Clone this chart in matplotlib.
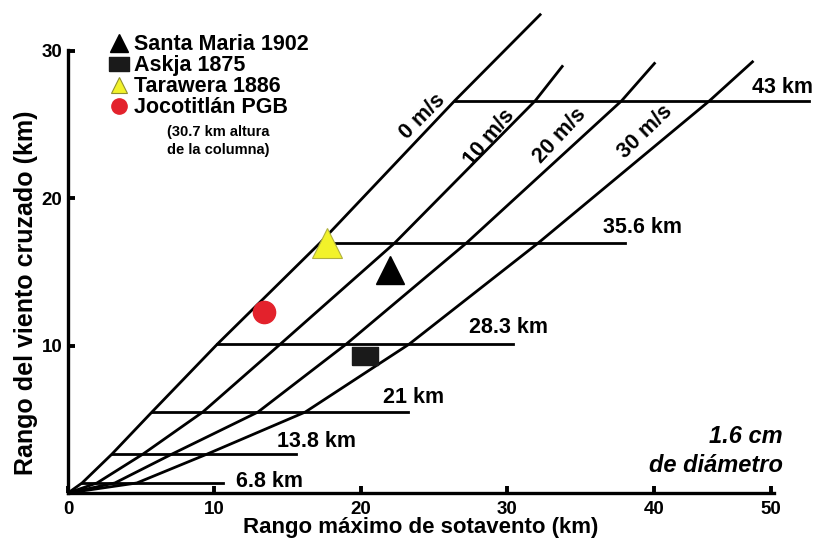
import matplotlib
matplotlib.use("Agg")
import matplotlib.pyplot as plt
from matplotlib.lines import Line2D

plt.rcParams['font.family'] = ['Liberation Sans', 'DejaVu Sans']
plt.rcParams['font.weight'] = 'bold'

# alturas de columna (km) y posicion de cada linea horizontal
alturas = ['6.8 km', '13.8 km', '21 km', '28.3 km', '35.6 km', '43 km']
alt_y = [0.68, 2.64, 5.49, 10.1, 16.95, 26.6]
alt_x0 = [0.96, 3.0, 5.73, 10.2, 17.2, 26.4]
alt_x1 = [10.6, 15.6, 23.2, 30.4, 38.0, 50.6]

# curvas de velocidad del viento: cruces con cada altura + extremo superior
viento = ['0 m/s', '10 m/s', '20 m/s', '30 m/s']
v0_x = [0, 0.96, 3.0, 5.73, 10.2, 17.2, 26.4, 32.3]
v0_y = [0, 0.68, 2.64, 5.49, 10.1, 16.95, 26.6, 32.5]
v10_x = [0, 1.98, 5.12, 9.2, 14.5, 22.3, 31.9, 33.8]
v10_y = [0, 0.68, 2.64, 5.49, 10.1, 16.95, 26.6, 29.0]
v20_x = [0, 3.2, 7.1, 12.97, 19.0, 27.2, 37.8, 40.1]
v20_y = [0, 0.68, 2.64, 5.49, 10.1, 16.95, 26.6, 29.2]
v30_x = [0, 4.7, 9.5, 16.2, 23.3, 32.1, 43.8, 46.8]
v30_y = [0, 0.68, 2.64, 5.49, 10.1, 16.95, 26.6, 29.3]

# erupciones
volcanes = ['Santa Maria 1902', 'Askja 1875', 'Tarawera 1886', 'Jocotitlán PGB']
vol_x = [22.0, 20.3, 17.7, 13.4]
vol_y = [15.1, 9.3, 16.95, 12.3]

xticks_lbl = ['0', '10', '20', '30', '40', '50']
yticks_lbl = ['10', '20', '30']

fig = plt.figure(figsize=(8.21, 5.45), dpi=100)
ax = fig.add_axes([68/821, 52/545, 706/821, 443/545])
ax.set_xlim(0, 48.2)
ax.set_ylim(0, 30.04)

lw = 2.0
for x0, x1, y in zip(alt_x0, alt_x1, alt_y):
    ax.plot([x0, x1], [y, y], color='black', lw=lw, clip_on=False)

for xs, ys in [(v0_x, v0_y), (v10_x, v10_y), (v20_x, v20_y), (v30_x, v30_y)]:
    ax.plot(xs, ys, color='black', lw=lw, clip_on=False, solid_capstyle='butt')

# etiquetas de altura
lbl_pos = [(11.5, 0.75), (14.3, 3.5), (21.5, 6.5), (27.4, 11.2), (36.5, 18.0), (46.7, 27.5)]
for t, (x, y) in zip(alturas, lbl_pos):
    ax.text(x, y, t, fontsize=15.5, fontweight='bold', ha='left', va='center')

# etiquetas de viento
v_pos = [(24.2, 25.5, 45), (28.8, 24.1, 50), (33.6, 24.2, 47), (39.4, 24.5, 44)]
for t, (x, y, r) in zip(viento, v_pos):
    ax.text(x, y, t, fontsize=15.5, fontweight='bold', ha='center', va='center',
            rotation=r, rotation_mode='anchor')

# puntos de las erupciones
sq = [(-1, -0.7), (1, -0.7), (1, 0.7), (-1, 0.7), (-1, -0.7)]
ax.plot(vol_x[0], vol_y[0], marker='^', ms=20, color='black', zorder=5)
ax.plot(vol_x[1], vol_y[1], marker=sq, ms=19, color='#1a1a1a', zorder=5)
ax.plot(vol_x[2], vol_y[2], marker='^', ms=21, mfc='#f2f22a', mec='#b0b040', mew=0.8, zorder=5)
ax.plot(vol_x[3], vol_y[3], marker='o', ms=16, mfc='#e3222c', mec='#e3222c', zorder=5)

handles = [
    Line2D([], [], ls='', marker='^', ms=13, color='black'),
    Line2D([], [], ls='', marker=sq, ms=14, color='#1a1a1a'),
    Line2D([], [], ls='', marker='^', ms=12, mfc='#f2f22a', mec='#909030', mew=0.8),
    Line2D([], [], ls='', marker='o', ms=11, mfc='#e3222c', mec='#e3222c'),
]
fig.legend(handles, volcanes, loc='upper left', bbox_to_anchor=(0.122, 0.957),
           frameon=False, borderpad=0, handlelength=0.75, handletextpad=0.3,
           labelspacing=0.0, prop={'size': 15.5, 'weight': 'bold'})
fig.text(218/821, 1 - 132/545, '(30.7 km altura', fontsize=10.5, fontweight='bold',
         ha='center', va='center')
fig.text(218/821, 1 - 150/545, 'de la columna)', fontsize=10.5, fontweight='bold',
         ha='center', va='center')

ax.text(48.8, 3.8, '1.6 cm', fontsize=17, fontweight='bold', style='italic',
        ha='right', va='center')
ax.text(48.8, 1.85, 'de diámetro', fontsize=17, fontweight='bold', style='italic',
        ha='right', va='center')

# ejes
for s in ['top', 'right']:
    ax.spines[s].set_visible(False)
for s in ['left', 'bottom']:
    ax.spines[s].set_linewidth(2.4)
ax.set_xticks([0, 10, 20, 30, 40, 48.0])
ax.set_xticklabels(xticks_lbl)
ax.set_yticks([10, 20, 30])
ax.set_yticklabels(yticks_lbl)
ax.tick_params(direction='in', length=5, width=2.8, labelsize=13.5)
ax.tick_params(axis='x', pad=6)
ax.tick_params(axis='y', pad=4)
ax.set_xlabel('Rango máximo de sotavento (km)', fontsize=16, fontweight='bold', labelpad=-1)
ax.set_ylabel('Rango del viento cruzado (km)', fontsize=18, fontweight='bold')
ax.yaxis.set_label_coords(-0.043, 0.451)

fig.savefig('out.png', dpi=100)
